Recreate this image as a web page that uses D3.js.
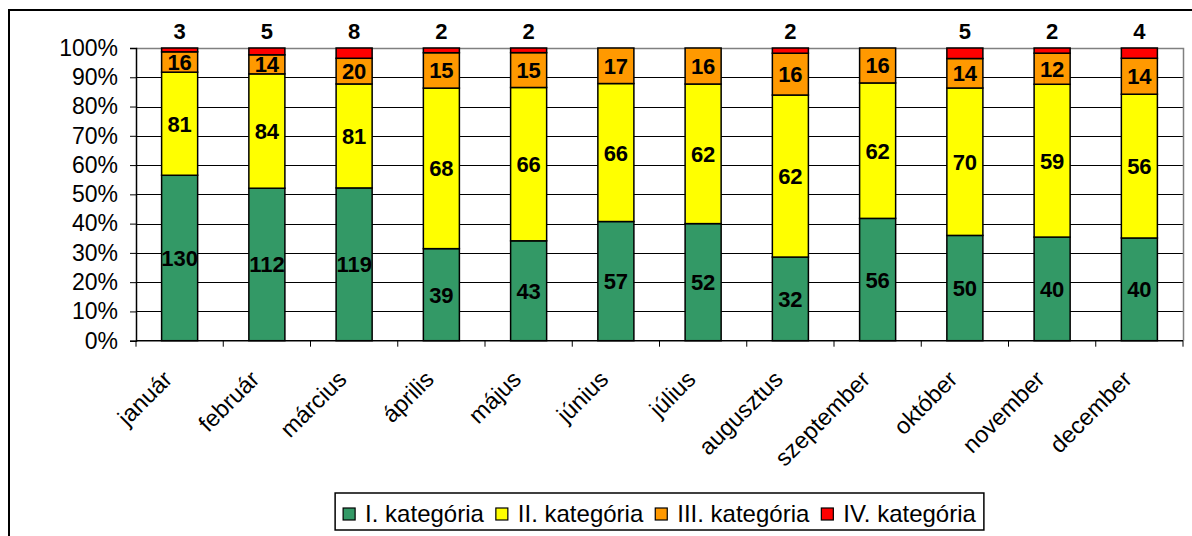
<!DOCTYPE html>
<html><head><meta charset="utf-8">
<script src="https://cdn.jsdelivr.net/npm/d3@7"></script>
<style>body{margin:0;background:#fff} text{font-family:"Liberation Sans",Arial,sans-serif;fill:#000}</style>
</head><body><svg id="c" width="1192" height="536"></svg>
<script>
const months = ["január","február","március","április","május","június","július","augusztus","szeptember","október","november","december"];
const seriesNames = ["I. kategória","II. kategória","III. kategória","IV. kategória"];
const cat1 = [130,112,119,39,43,57,52,32,56,50,40,40];
const cat2 = [81,84,81,68,66,66,62,62,62,70,59,56];
const cat3 = [16,14,20,15,15,17,16,16,16,14,12,14];
const cat4 = [3,5,8,2,2,0,0,2,0,5,2,4];
const seriesColors = ["#339966","#FFFF00","#FF9900","#FF0000"];
const yTickValues = [0,0.1,0.2,0.3,0.4,0.5,0.6,0.7,0.8,0.9,1];

const svg = d3.select("#c");
const L = 136, R = 1183, T = 48, B = 340.7;
const x = d3.scaleBand().domain(months).range([L, R]).paddingInner(0.587).paddingOuter(0.2935);
const y = d3.scaleLinear().domain([0,1]).range([B, T]);

// outer frame
svg.append("rect").attr("x",9).attr("y",10).attr("width",1300).attr("height",600)
  .attr("fill","none").attr("stroke","#000").attr("stroke-width",2);

// gridlines
svg.append("g").selectAll("line").data(yTickValues.filter(d=>d>0 && d<1)).join("line")
  .attr("x1",L).attr("x2",R).attr("y1",d=>Math.round(y(d))+0.5).attr("y2",d=>Math.round(y(d))+0.5)
  .attr("stroke","#000").attr("stroke-width",1);
// plot border top/right (gray)
svg.append("path").attr("d",`M${L},${Math.round(T)+0.5}H${R+0.5}V${B}`)
  .attr("fill","none").attr("stroke","#808080").attr("stroke-width",1.5);

// data stack
const rows = months.map((m,i)=>({month:m, v:[cat1[i],cat2[i],cat3[i],cat4[i]]}));
const stackData = rows.map(r=>{
  const tot = d3.sum(r.v);
  const o = {month:r.month};
  seriesNames.forEach((s,j)=>o[s]=r.v[j]/tot);
  return o;
});
const stack = d3.stack().keys(seriesNames)(stackData);

const gBars = svg.append("g");
stack.forEach((layer,j)=>{
  gBars.selectAll(null).data(layer).join("rect")
    .attr("x",d=>x(d.data.month)).attr("width",x.bandwidth())
    .attr("y",d=>y(d[1])).attr("height",d=>Math.max(0,y(d[0])-y(d[1])))
    .attr("fill",seriesColors[j]).attr("stroke","#000").attr("stroke-width",1.5)
    .attr("display",d=>(d[1]-d[0])>0?null:"none");
});

// labels
const raw = [cat1,cat2,cat3,cat4];
stack.forEach((layer,j)=>{
  svg.append("g").selectAll("text").data(layer.map((d,i)=>({d,i})).filter(o=>raw[j][o.i]>0)).join("text")
    .attr("x",o=>x(o.d.data.month)+x.bandwidth()/2)
    .attr("y",o=> j===3 ? 39 : (y(o.d[0])+y(o.d[1]))/2 + 8)
    .attr("text-anchor","middle").attr("font-weight","bold").attr("font-size",22)
    .text(o=>raw[j][o.i]);
});

// y axis
const yAxis = d3.axisLeft(y).tickValues(yTickValues).tickFormat(d3.format(".0%")).tickSize(6).tickPadding(12);
const gy = svg.append("g").attr("transform",`translate(${L},0)`).call(yAxis);
gy.select(".domain").attr("stroke","#000").attr("stroke-width",1.5);
gy.selectAll(".tick line").attr("stroke","#000");
gy.selectAll(".tick text").attr("font-size",23).attr("font-family",'"Liberation Sans",Arial,sans-serif').attr("fill","#000");

// x axis
const gx = svg.append("g").attr("transform",`translate(0,${B})`);
gx.append("line").attr("x1",L).attr("x2",R).attr("y1",0).attr("y2",0).attr("stroke","#000").attr("stroke-width",1.5);
const bounds = d3.range(months.length+1).map(i=>L + i*(R-L)/months.length);
gx.selectAll("line.tk").data(bounds).join("line").attr("class","tk")
  .attr("x1",d=>d).attr("x2",d=>d).attr("y1",0).attr("y2",6).attr("stroke","#000");
gx.selectAll("text").data(months).join("text")
  .attr("transform",d=>`translate(${x(d)+x.bandwidth()/2-6},${40}) rotate(-45)`)
  .attr("text-anchor","end").attr("font-size",23.5).text(d=>d);

// legend
const lg = svg.append("g");
const box = lg.append("rect").attr("y",493).attr("height",37).attr("fill","#fff").attr("stroke","#000").attr("stroke-width",1.5);
let cx = 0;
const items = [];
seriesNames.forEach((s,j)=>{
  const g = lg.append("g");
  g.append("rect").attr("x",cx).attr("y",508).attr("width",12).attr("height",12)
    .attr("fill",seriesColors[j]).attr("stroke","#000").attr("stroke-width",1.2);
  const t = g.append("text").attr("x",cx+22).attr("y",522).attr("font-size",24).text(s);
  cx += 22 + t.node().getComputedTextLength() + 12;
  items.push(g);
});
const totalW = cx - 12;
const boxW = totalW + 16;
const boxX = (L+R)/2 - boxW/2;
box.attr("x",boxX).attr("width",boxW);
items.forEach(g=>g.attr("transform",`translate(${boxX+8},0)`));
</script></body></html>
